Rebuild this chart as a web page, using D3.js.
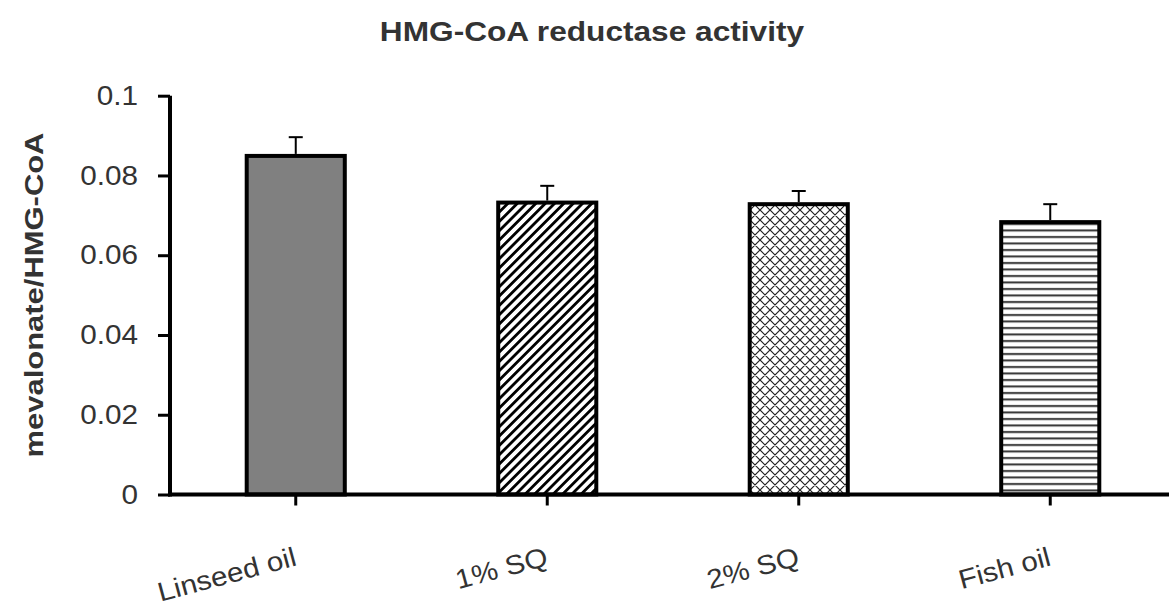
<!DOCTYPE html>
<html>
<head>
<meta charset="utf-8">
<script src="https://cdn.jsdelivr.net/npm/d3@7"></script>
<style>
  body { margin: 0; background: #fff; }
  text { font-family: "Liberation Sans", Arial, sans-serif; fill: #333; }
</style>
</head>
<body>
<svg id="chart" width="1169" height="609"></svg>
<script>
// data
var groups = ["Linseed oil", "1% SQ", "2% SQ", "Fish oil"];
var means = [0.0849, 0.0732, 0.0728, 0.0683];
var errors = [0.0047, 0.0042, 0.0033, 0.0045];
var yTicks = [0, 0.02, 0.04, 0.06, 0.08, 0.1];
var fills = ["#808080", "url(#diag)", "url(#cross)", "url(#horiz)"];

var svg = d3.select("#chart");

// scales
var x = d3.scaleBand().domain(groups).range([170, 1176]).paddingInner(0.61).paddingOuter(0.305);
var y = d3.scaleLinear().domain([0, 0.1]).range([494.5, 95.7]);

// stretch text a little, the source font is wider than Arial
function stretch(sel, k) {
    sel.each(function () {
        var len = this.getComputedTextLength();
        d3.select(this).attr("textLength", len * k).attr("lengthAdjust", "spacingAndGlyphs");
    });
}

// patterns
var defs = svg.append("defs");
var p1 = defs.append("pattern").attr("id", "diag").attr("patternUnits", "userSpaceOnUse")
    .attr("width", 6.6).attr("height", 6.6).attr("patternTransform", "rotate(45)");
p1.append("rect").attr("width", 6.6).attr("height", 6.6).attr("fill", "#fff");
p1.append("rect").attr("x", 0).attr("width", 2.8).attr("height", 6.6).attr("fill", "#000");

var p2 = defs.append("pattern").attr("id", "cross").attr("patternUnits", "userSpaceOnUse")
    .attr("width", 10).attr("height", 10);
p2.append("rect").attr("width", 10).attr("height", 10).attr("fill", "#fff");
p2.append("path").attr("d", "M0,0L10,10M10,0L0,10M-1,1L1,-1M9,11L11,9M-1,9L1,11M9,-1L11,1")
    .attr("stroke", "#222").attr("stroke-width", 1.2);

var p3 = defs.append("pattern").attr("id", "horiz").attr("patternUnits", "userSpaceOnUse")
    .attr("width", 10).attr("height", 6.5);
p3.append("rect").attr("width", 10).attr("height", 6.5).attr("fill", "#fff");
p3.append("rect").attr("y", 2).attr("width", 10).attr("height", 2).attr("fill", "#333");

// bars
svg.selectAll("rect.bar")
    .data(groups)
    .enter().append("rect")
    .attr("class", "bar")
    .attr("x", d => x(d))
    .attr("y", (d, i) => y(means[i]))
    .attr("width", x.bandwidth())
    .attr("height", (d, i) => y(0) - y(means[i]))
    .attr("fill", (d, i) => fills[i])
    .attr("stroke", "#000")
    .attr("stroke-width", 4);

// error bars (upper only)
groups.forEach(function (g, i) {
    var cx = x(g) + x.bandwidth() / 2;
    svg.append("line")
        .attr("x1", cx).attr("x2", cx)
        .attr("y1", y(means[i]) - 2).attr("y2", y(means[i] + errors[i]))
        .attr("stroke", "#000").attr("stroke-width", 2);
    svg.append("line")
        .attr("x1", cx - 7).attr("x2", cx + 7)
        .attr("y1", y(means[i] + errors[i])).attr("y2", y(means[i] + errors[i]))
        .attr("stroke", "#000").attr("stroke-width", 2);
});

// y axis
var yAxis = svg.append("g").attr("transform", "translate(170,0)")
    .call(d3.axisLeft(y).tickValues(yTicks).tickFormat(d => d3.format("")(d)).tickSize(12).tickPadding(20));
yAxis.select(".domain").attr("d", "M0," + y(0.1) + "V" + (y(0) + 2)).attr("stroke", "#000").attr("stroke-width", 4);
yAxis.selectAll(".tick line").attr("stroke", "#000").attr("stroke-width", 3);
yAxis.selectAll(".tick text").attr("font-size", 27).attr("fill", "#333")
    .attr("font-family", "Liberation Sans, Arial, sans-serif").call(stretch, 1.1);

// x axis
var xAxis = svg.append("g").attr("transform", "translate(0," + y(0) + ")")
    .call(d3.axisBottom(x).tickSize(11).tickFormat(""));
xAxis.select(".domain").attr("d", "M168,0H1169").attr("stroke", "#000").attr("stroke-width", 4);
xAxis.selectAll(".tick line").attr("stroke", "#000").attr("stroke-width", 3);

// category labels, tilted
svg.selectAll("text.cat")
    .data(groups)
    .enter().append("text")
    .attr("class", "cat")
    .attr("text-anchor", "end")
    .attr("font-size", 27)
    .attr("transform", d => "translate(" + (x(d) + x.bandwidth() / 2 + 2) + ",565) rotate(-15)")
    .text(d => d)
    .call(stretch, 1.1);

// title
svg.append("text")
    .attr("x", 592).attr("y", 41)
    .attr("text-anchor", "middle")
    .attr("font-size", 28).attr("font-weight", "bold")
    .text("HMG-CoA reductase activity")
    .call(stretch, 1.13);

// y axis title
svg.append("text")
    .attr("transform", "translate(43,295) rotate(-90)")
    .attr("text-anchor", "middle")
    .attr("font-size", 26).attr("font-weight", "bold")
    .text("mevalonate/HMG-CoA")
    .call(stretch, 1.19);
</script>
</body>
</html>
